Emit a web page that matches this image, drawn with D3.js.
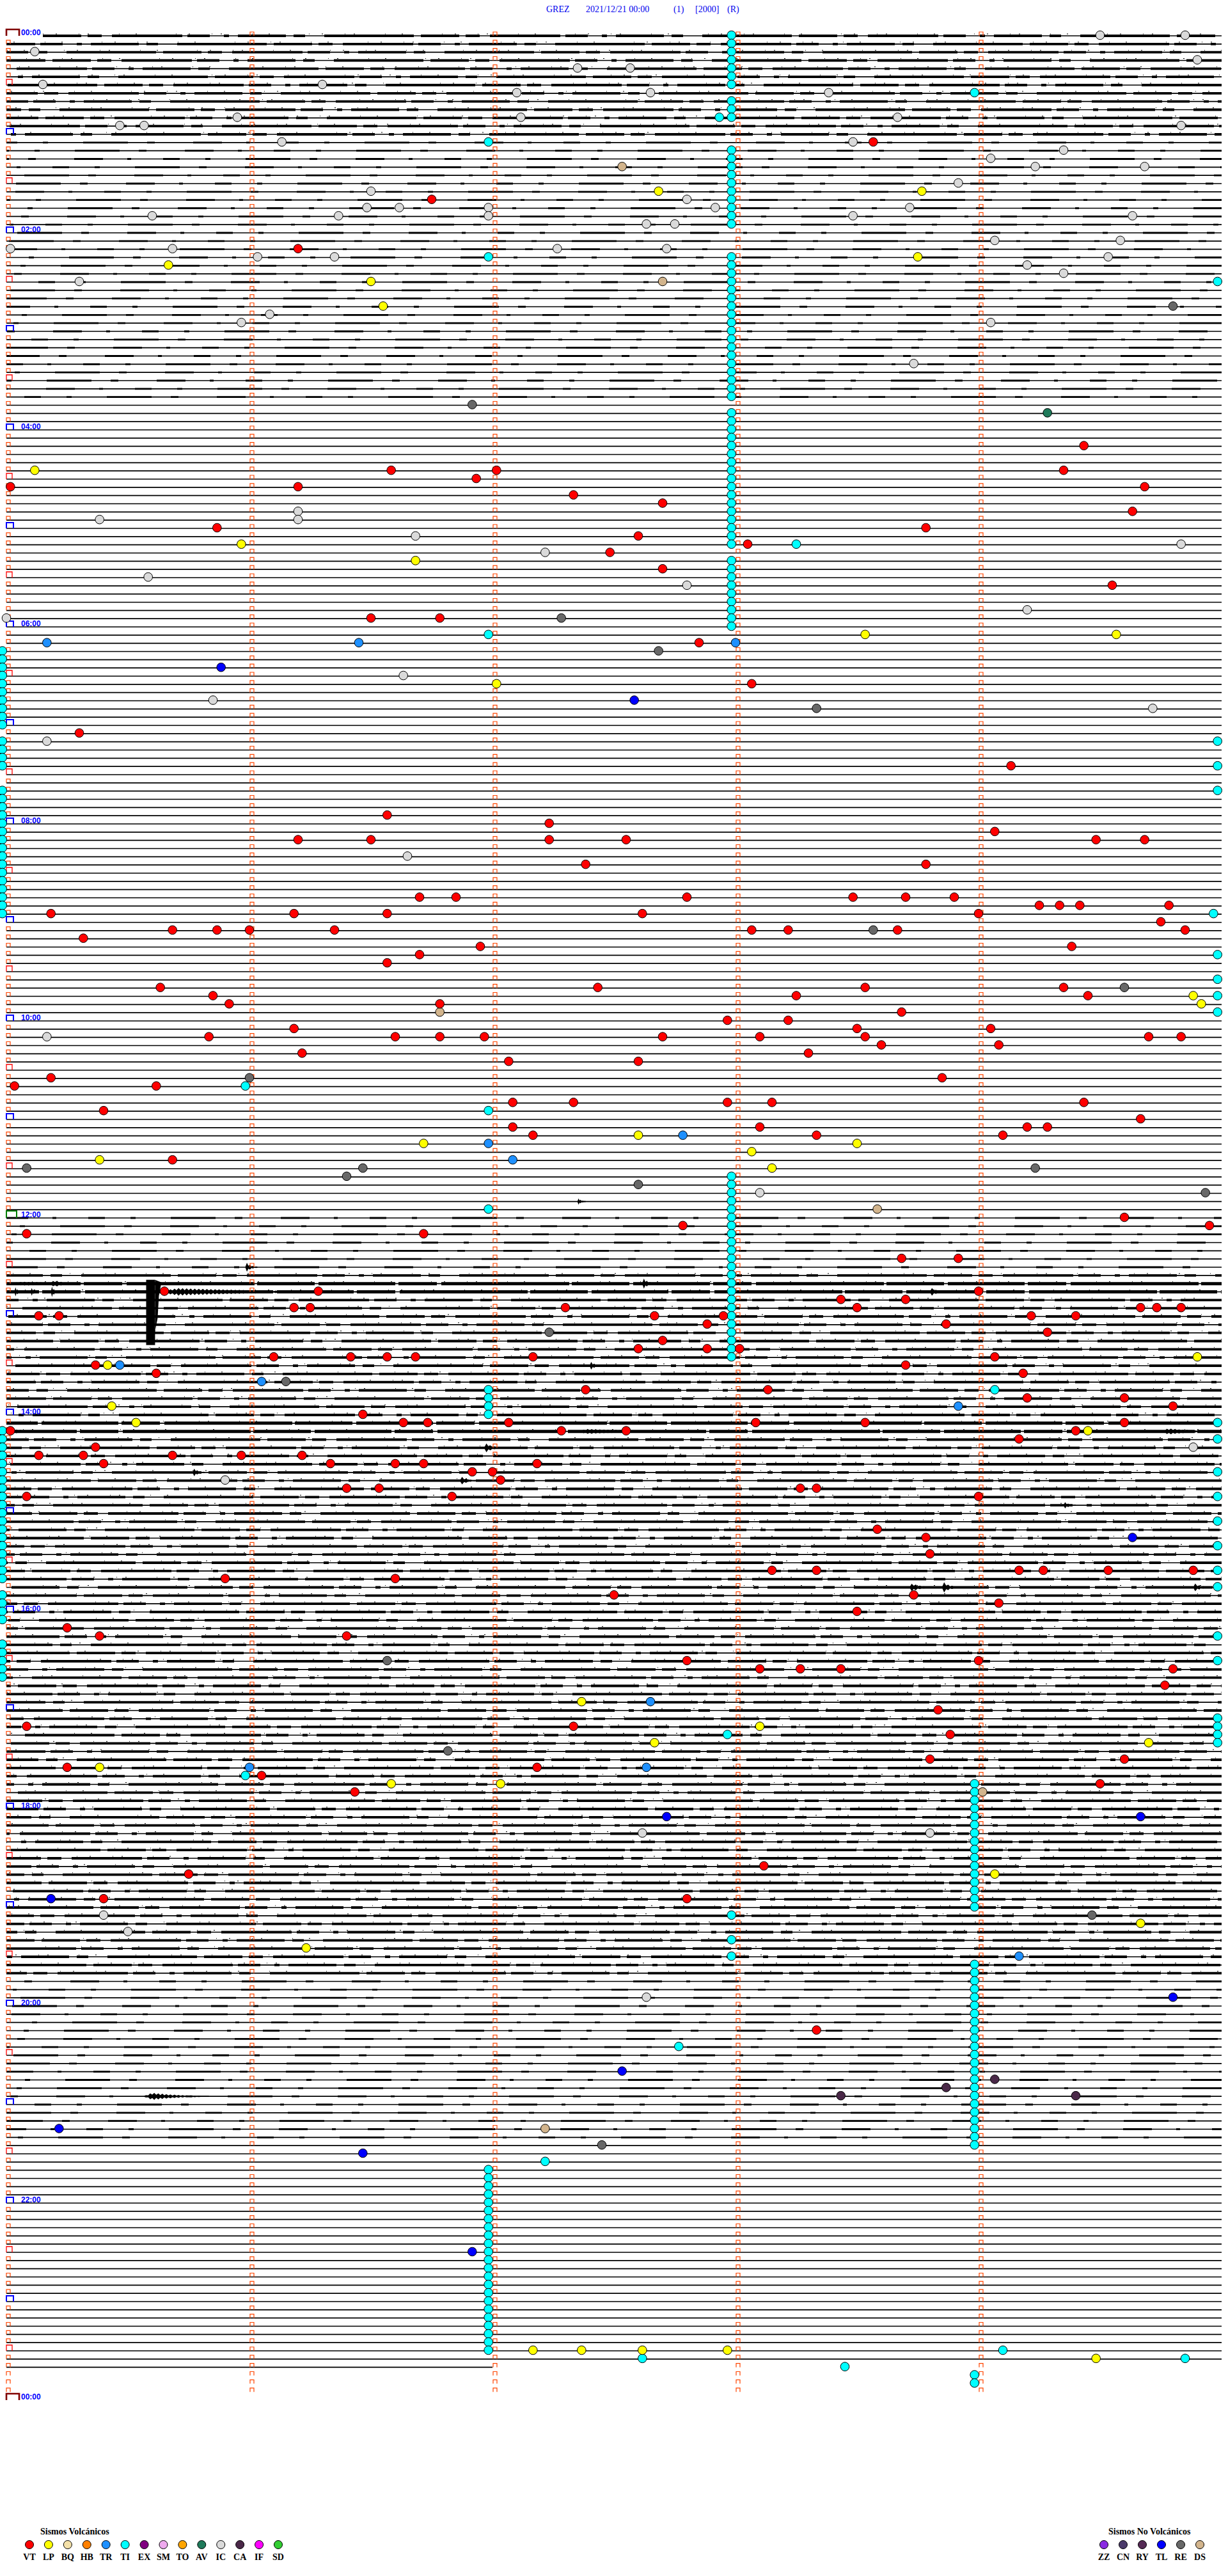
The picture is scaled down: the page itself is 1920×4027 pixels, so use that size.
<!DOCTYPE html>
<html>
<head>
<meta charset="utf-8">
<script src="https://cdn.jsdelivr.net/npm/d3@7"></script>
<style>
  body { margin: 0; background: #fff; }
  svg { display: block; }
</style>
</head>
<body>
<svg id="chart"></svg>
<script>
// Helicorder GREZ 2021/12/21 - one row = 5 minutes, 288 rows per day

const titleParts = ["GREZ", "2021/12/21 00:00", "(1)", "[2000]", "(R)"];
const hourLabels = ["00:00", "02:00", "04:00", "06:00", "08:00", "10:00", "12:00",
                    "14:00", "16:00", "18:00", "20:00", "22:00", "00:00"];

const volcanicCodes  = ["VT", "LP", "BQ", "HB", "TR", "TI", "EX", "SM", "TO", "AV", "IC", "CA", "IF", "SD"];
const volcanicColors = ["#ff0000", "#ffff00", "#f3e0a8", "#ff8000", "#1e90ff", "#00ffff", "#800080",
                        "#eeaaee", "#ffa500", "#1f7a5a", "#dadada", "#4a2848", "#ff00ff", "#32cd32"];
const otherCodes  = ["ZZ", "CN", "RY", "TL", "RE", "DS"];
const otherColors = ["#8a2be2", "#4b3a6a", "#552a55", "#0000ff", "#686868", "#d2b48c"];

// recording span: [row, second in row]
const dataStart = [0, 9];
const dataEnd = [284, 120];

// noise level of each trace: [firstRow, lastRow, level 0..3]
const noiseRuns = [
  [0, 12, 2], [13, 44, 1], [45, 143, 0], [144, 150, 1], [151, 151, 2], [152, 153, 3],
  [154, 168, 2], [169, 170, 3], [171, 215, 2], [216, 236, 2], [237, 256, 1], [257, 284, 0]
];

// short bursts on a trace: [row, startSec, durationSec, amplitudePx]
const bursts = [
  [152, 0, 34, 3], [152, 11, 6, 6], [153, 36, 55, 6], [153, 2, 2, 7], [153, 6, 2, 6],
  [153, 11, 2, 8], [153, 228, 4, 6], [150, 59, 3, 7], [152, 157, 3, 8], [142, 141, 2, 5],
  [162, 144, 3, 6], [172, 118, 4, 7], [176, 112, 4, 6], [175, 46, 3, 6], [179, 261, 3, 5],
  [189, 223, 5, 7], [189, 231, 4, 8], [189, 293, 4, 6], [251, 34, 16, 6], [170, 140, 30, 4],
  [170, 0, 10, 4], [170, 285, 15, 5]
];
// clipped signal of the large event: [row, sec, widthSec, depthPx]
const clippedEvents = [[152, 34.5, 2.2, 96]];

// events: [row, second in row]
const vtEvents = [
  [13,214],[20,105],[26,72],[53,95],[54,116],[53,121],[53,261],[50,266],[55,281],[55,72],[55,1],
  [56,140],[57,162],[58,278],[60,52],[61,156],[60,227],[62,183],[63,149],[65,162],[67,273],
  [71,107],[71,90],[74,171],[79,184],[85,18],[89,248],[95,94],[96,134],[98,72],[98,90],[98,134],
  [98,153],[98,269],[97,244],[98,281],[101,143],[101,227],[105,102],[105,111],[105,168],[105,209],
  [105,222],[105,234],[107,240],[106,255],[106,260],[106,265],[106,287],[107,11],[107,71],[107,94],
  [107,157],[109,184],[109,193],[109,220],[109,41],[109,52],[109,60],[109,81],[111,117],[112,102],
  [113,94],[110,19],[109,291],[108,285],[111,263],[116,38],[117,51],[118,55],[118,107],[116,146],
  [117,195],[116,212],[116,261],[117,267],[120,178],[121,71],[122,50],[122,96],[122,107],[122,118],
  [122,162],[122,186],[120,193],[121,210],[122,212],[123,216],[119,221],[121,243],[123,245],
  [122,282],[122,290],[124,73],[125,124],[125,156],[124,198],[127,231],[128,2],[127,11],[128,37],
  [130,125],[130,140],[130,178],[130,189],[130,266],[131,24],[133,125],[134,130],[133,186],
  [134,200],[134,246],[133,252],[133,257],[132,280],[137,41],[146,103],[145,167],[144,276],
  [145,297],[149,235],[149,221],[146,5],[153,39],[153,77],[155,71],[155,75],[156,8],[156,13],
  [161,66],[162,22],[163,37],[155,138],[156,160],[157,173],[156,177],[160,156],[159,162],
  [160,181],[160,173],[154,206],[155,210],[154,222],[157,232],[153,240],[156,253],[156,264],
  [155,280],[155,284],[155,290],[158,257],[163,251],[161,244],[162,222],[161,85],[161,94],
  [161,101],[161,130],[165,143],[165,188],[166,252],[166,276],[167,288],[170,1],[168,88],
  [169,98],[169,104],[169,124],[170,137],[170,153],[169,185],[169,212],[171,250],[170,264],
  [169,276],[173,8],[173,19],[174,24],[173,41],[173,58],[173,73],[174,80],[174,96],[174,103],
  [175,115],[175,120],[174,131],[172,22],[178,5],[177,84],[177,92],[178,110],[176,122],[177,196],
  [177,200],[178,240],[182,215],[183,227],[185,228],[187,250],[187,256],[187,272],[187,189],
  [187,200],[188,54],[188,96],[190,150],[190,224],[187,293],[192,210],[191,245],[194,15],[195,23],
  [195,84],[198,168],[199,186],[199,196],[199,206],[198,240],[199,288],[201,286],[206,140],
  [204,230],[207,233],[206,5],[211,131],[211,15],[212,63],[214,86],[210,228],[210,276],[213,270],
  [223,187],[224,45],[227,24],[227,168],[243,200]
];
const lpEvents = [
  [19,161],[19,226],[28,40],[27,225],[30,90],[33,93],[53,7],[62,58],[64,101],[79,121],[73,212],
  [73,274],[117,293],[118,295],[134,156],[135,210],[135,103],[137,23],[136,184],[138,189],[161,294],
  [162,25],[167,26],[169,32],[170,267],[203,142],[206,186],[208,160],[208,282],[211,23],[213,95],
  [213,122],[224,244],[230,280],[233,74],[282,130],[282,142],[282,157],[282,178],[283,269]
];
const trEvents = [
  [74,87],[74,10],[74,180],[134,167],[135,119],[137,125],[162,28],[164,63],[167,235],[203,159],
  [211,60],[211,158],[234,250]
];
const icEvents = [
  [2,7],[6,9],[0,270],[0,291],[3,294],[4,141],[4,154],[7,126],[7,159],[7,203],[6,78],[10,57],
  [11,28],[11,34],[13,68],[10,127],[13,209],[10,220],[11,290],[15,243],[16,254],[14,261],[16,281],
  [19,90],[22,82],[21,89],[21,97],[21,119],[22,119],[22,36],[20,168],[21,175],[23,158],[23,165],
  [22,209],[21,223],[18,235],[22,278],[26,1],[26,41],[27,62],[27,81],[26,136],[26,163],[25,244],
  [25,275],[27,272],[28,252],[29,261],[30,18],[34,65],[35,58],[35,243],[40,224],[59,23],[58,72],
  [59,72],[61,101],[63,133],[62,290],[66,35],[67,168],[70,252],[71,0],[78,98],[81,51],[82,283],
  [86,10],[100,99],[122,10],[141,186],[172,293],[176,54],[219,157],[219,228],[229,24],[231,30],
  [239,158]
];
const tlEvents = [
  [77,53],[81,155],[183,278],[217,163],[217,280],[227,11],[239,288],[248,152],[255,13],[258,88],
  [270,115]
];
const reEvents = [
  [33,288],[45,115],[71,137],[75,161],[82,200],[109,214],[116,276],[127,60],[138,5],[139,84],
  [138,88],[138,254],[141,296],[140,156],[158,134],[164,69],[198,94],[209,109],[229,268],[257,147]
];
const dsEvents = [[16,152],[30,162],[119,107],[143,215],[214,241],[255,133]];
const avEvents = [[46,257]];
const caEvents = [[250,232],[249,244],[251,264],[251,206]];
const tiEvents = [
  [10,176],[7,239],[13,119],[27,119],[30,299],[62,195],[73,119],[86,299],[89,299],[92,299],
  [107,298],[112,299],[115,299],[117,299],[119,299],[128,59],[131,119],[143,119],[165,244],
  [169,299],[171,299],[175,299],[178,299],[181,299],[184,299],[187,299],[189,299],[195,299],
  [198,299],[207,178],[212,59],[229,179],[232,179],[234,179],[245,166],[259,133],[283,157],
  [284,207],[282,246],[283,291]
];
// stacked TI columns: [firstRow, lastRow, second in row]
const tiColumns = [
  [0, 6, 179], [8, 10, 179], [14, 23, 179], [27, 44, 179], [46, 62, 179], [64, 72, 179],
  [139, 161, 179], [165, 168, 119], [213, 228, 239], [235, 257, 239], [285, 286, 239],
  [260, 282, 119], [205, 208, 299],
  [75, 84, -1], [86, 89, -1], [92, 107, -1], [170, 188, -1], [190, 193, -1], [196, 200, -1]
];

// ---------------------------------------------------------------------------
const W = 1920, H = 4027;
const ROWS = 288, ROW_SEC = 300;

const svg = d3.select('#chart').attr('width', W).attr('height', H);
svg.append('rect').attr('width', W).attr('height', H).attr('fill', '#fff');

const x = d3.scaleLinear().domain([0, ROW_SEC]).range([10, 1910]);
const y = d3.scaleLinear().domain([0, ROWS]).range([56, 3752]);

const colorOf = {};
volcanicCodes.forEach((c, i) => colorOf[c] = volcanicColors[i]);
otherCodes.forEach((c, i) => colorOf[c] = otherColors[i]);

// title
const titleX = [854, 916, 1053, 1087, 1137];
svg.append('g').selectAll('text').data(titleParts).join('text')
    .attr('x', (d, i) => titleX[i])
    .attr('y', 19)
    .attr('font-family', 'Liberation Serif, serif')
    .attr('font-size', 14)
    .attr('fill', '#0000ee')
    .text(d => d);

// traces
const noiseByRow = new Array(ROWS).fill(0);
noiseRuns.forEach(([a, b, lv]) => { for (let r = a; r <= b; r++) noiseByRow[r] = lv; });

const traceRows = d3.range(dataStart[0], dataEnd[0] + 1).map(r => ({
    row: r,
    from: r === dataStart[0] ? dataStart[1] : 0,
    to: r === dataEnd[0] ? dataEnd[1] : ROW_SEC,
    level: noiseByRow[r]
}));

const traces = svg.append('g').attr('class', 'traces');
traces.selectAll('line.base').data(traceRows).join('line')
    .attr('class', 'base')
    .attr('x1', d => x(d.from)).attr('x2', d => x(d.to))
    .attr('y1', d => y(d.row)).attr('y2', d => y(d.row))
    .attr('stroke', '#000').attr('stroke-width', 1.7);

// thicker noisy stretches along each trace
const noiseWidth = [0, 2.8, 3.8, 5];
const noiseDash = ['', '26 40 8 55 70 30 12 60 45 38 6 50',
                   '60 10 22 16 110 8 35 22 8 14 75 12 18 30 140 11',
                   '120 5 60 7 200 4 90 6'];
traces.selectAll('line.noise').data(traceRows.filter(d => d.level > 0)).join('line')
    .attr('class', 'noise')
    .attr('x1', d => x(d.from)).attr('x2', d => x(d.to))
    .attr('y1', d => y(d.row)).attr('y2', d => y(d.row))
    .attr('stroke', '#000')
    .attr('stroke-width', d => noiseWidth[d.level])
    .attr('stroke-dasharray', d => noiseDash[d.level])
    .attr('stroke-dashoffset', d => (d.row * 173) % 600);
// sparse tick speckle above the noisier traces
traces.selectAll('line.speck').data(traceRows.filter(d => d.level > 1)).join('line')
    .attr('class', 'speck')
    .attr('x1', d => x(d.from)).attr('x2', d => x(d.to))
    .attr('y1', d => y(d.row) - 3).attr('y2', d => y(d.row) - 3)
    .attr('stroke', '#000')
    .attr('stroke-width', 1)
    .attr('stroke-dasharray', '1 19 2 34 1 13 2 47 1 25 2 61')
    .attr('stroke-dashoffset', d => (d.row * 59) % 200);

// bursts: envelope that rises quickly and decays
const envelope = d3.area()
    .x(p => p[0]).y0(p => p[1]).y1(p => p[2])
    .curve(d3.curveLinear);
traces.selectAll('path.burst').data(bursts).join('path')
    .attr('class', 'burst')
    .attr('fill', '#000')
    .attr('d', ([row, sec, dur, amp]) => {
        const n = Math.max(8, Math.round(dur * 2));
        const pts = d3.range(0, n + 1).map(i => {
            const t = i / n;
            const e = amp * (t < 0.12 ? t / 0.12 : Math.exp(-2.4 * (t - 0.12)));
            const a = Math.max(e * (i % 2 ? 1 : 0.45), 0.8);
            return [x(sec + t * dur), y(row) - a, y(row) + a];
        });
        return envelope(pts);
    });
traces.selectAll('rect.clip').data(clippedEvents).join('rect')
    .attr('class', 'clip')
    .attr('x', d => x(d[1])).attr('width', d => x(d[1] + d[2]) - x(d[1]))
    .attr('y', d => y(d[0]) - 6).attr('height', d => d[3] + 6)
    .attr('fill', '#000');
traces.selectAll('path.clipTail').data(clippedEvents).join('path')
    .attr('class', 'clipTail')
    .attr('fill', '#000')
    .attr('d', d => {
        const x0 = x(d[1] + d[2]), top = y(d[0]) - 6;
        return `M${x0},${top} L${x0 + 10},${top + 4} L${x0 + 6},${top + 25} L${x0 + 4},${top + 60} L${x0},${top + 80} Z`;
    });

// minute markers
const markers = [];
for (let r = 0; r <= ROWS; r++) {
    let m;
    if (r % 12 === 0) {
        if (r === 0 || r === ROWS) m = { w: 20, h: 10, color: '#800000', sw: 2.6 };
        else if (r === 144) m = { w: 16, h: 11, color: '#008000', sw: 2 };
        else m = { w: 11, h: 9, color: '#0000ff', sw: 2 };
    } else if (r % 6 === 0) m = { w: 9, h: 9, color: '#ff0000', sw: 1.3 };
    else m = { w: 6, h: 6, color: '#ff4500', sw: 1.2 };
    markers.push(Object.assign({ row: r, sec: 0, x0: 10 }, m));
    if (r < ROWS) {
        for (let c = 1; c <= 4; c++) {
            markers.push({ row: r, sec: c * 60, x0: x(c * 60) + 1, w: 6, h: 6, color: '#ff4500', sw: 1.2 });
        }
    }
}
svg.append('g').attr('class', 'markers').selectAll('path').data(markers).join('path')
    .attr('fill', 'none')
    .attr('stroke', d => d.color)
    .attr('stroke-width', d => d.sw)
    .attr('d', d => {
        const by = y(d.row);
        return `M${d.x0},${by} V${by - d.h} H${d.x0 + d.w} V${by}`;
    });

// hour labels every two hours
svg.append('g').selectAll('text').data(hourLabels).join('text')
    .attr('x', 33)
    .attr('y', (d, i) => y(i * 24) - 1)
    .attr('font-family', 'Liberation Sans, Arial, sans-serif')
    .attr('font-weight', 'bold')
    .attr('font-size', 12)
    .attr('fill', '#0000ff')
    .text(d => d);

// events
const tiAll = tiEvents.slice();
tiColumns.forEach(([a, b, s]) => d3.range(a, b + 1).forEach(r => tiAll.push([r, s])));
const eventSets = [
    ['TI', tiAll], ['IC', icEvents], ['DS', dsEvents], ['AV', avEvents], ['CA', caEvents],
    ['RE', reEvents], ['TL', tlEvents], ['TR', trEvents], ['LP', lpEvents], ['VT', vtEvents]
];
const events = [];
eventSets.forEach(([code, list]) => list.forEach(([row, sec]) => events.push({ code, row, sec })));

svg.append('g').attr('class', 'events').selectAll('circle').data(events).join('circle')
    .attr('cx', d => x(d.sec))
    .attr('cy', d => y(d.row) - 1)
    .attr('r', 6.8)
    .attr('fill', d => colorOf[d.code])
    .attr('stroke', '#000')
    .attr('stroke-width', 1);

// legends
const legend = svg.append('g').attr('class', 'legend')
    .attr('font-family', 'Liberation Serif, serif').attr('font-weight', 'bold');
legend.append('text').attr('x', 63).attr('y', 3962).attr('font-size', 14).text('Sismos Volcánicos');
legend.append('text').attr('x', 1733).attr('y', 3962).attr('font-size', 14).text('Sismos No Volcánicos');

const volX = d3.scalePoint().domain(volcanicCodes).range([46, 435]);
const othX = d3.scalePoint().domain(otherCodes).range([1726, 1876]);

function drawLegendRow(codes, sc) {
    const g = legend.append('g');
    g.selectAll('circle').data(codes).join('circle')
        .attr('cx', d => sc(d)).attr('cy', 3978).attr('r', 6.5)
        .attr('fill', d => colorOf[d]).attr('stroke', '#000').attr('stroke-width', 1);
    g.selectAll('text').data(codes).join('text')
        .attr('x', d => sc(d)).attr('y', 4002)
        .attr('text-anchor', 'middle').attr('font-size', 14)
        .text(d => d);
}
drawLegendRow(volcanicCodes, volX);
drawLegendRow(otherCodes, othX);
</script>
</body>
</html>
